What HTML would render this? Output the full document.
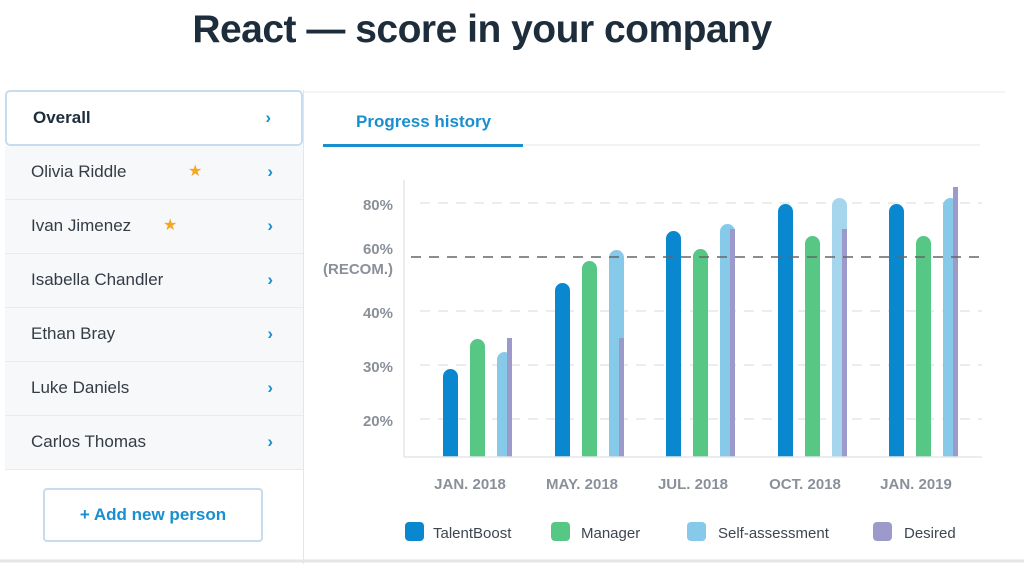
<!DOCTYPE html>
<html><head><meta charset="utf-8"><style>
body{margin:0;width:1024px;height:564px;background:#fff;font-family:"Liberation Sans",sans-serif;position:relative;overflow:hidden}
.t{position:absolute;left:0;width:964px;top:8px;text-align:center;font-size:39px;font-weight:bold;color:#1e2d3b;letter-spacing:-0.5px}
.panel{position:absolute;left:5px;top:90px;width:298px;height:474px;background:#fff;border-right:1px solid #e3e7ec}
.row{position:absolute;left:0;width:298px;height:54px;background:#f6f8fa;border-bottom:1px solid #e8ecf0;font-size:17px;color:#333c45;box-sizing:border-box;padding-left:26px;line-height:52px}
.row .a{position:absolute;right:30px;top:0;color:#1a8fd0;font-weight:bold;font-size:17px}
.row .s{position:absolute;color:#f5a623;font-size:16px}
.ov{background:#fff;border:2px solid #c7dcef;border-radius:5px;font-weight:bold;height:56px;line-height:52px;color:#1e2d3b}
.btn{position:absolute;left:38px;top:398px;width:216px;height:50px;border:2px solid #c7dcef;border-radius:4px;background:#fff;text-align:center;line-height:50px;color:#1a8fd0;font-weight:bold;font-size:17px}
</style></head><body>
<div class="t">React — score in your company</div>
<div class="panel">
<div class="row ov" style="top:0">Overall<span class="a">›</span></div>
<div class="row" style="top:56px">Olivia Riddle<span class="s" style="left:183px">★</span><span class="a">›</span></div>
<div class="row" style="top:110px">Ivan Jimenez<span class="s" style="left:158px">★</span><span class="a">›</span></div>
<div class="row" style="top:164px">Isabella Chandler<span class="a">›</span></div>
<div class="row" style="top:218px">Ethan Bray<span class="a">›</span></div>
<div class="row" style="top:272px">Luke Daniels<span class="a">›</span></div>
<div class="row" style="top:326px">Carlos Thomas<span class="a">›</span></div>
<div class="btn">+ Add new person</div>
</div>
<svg width="1024" height="564" style="position:absolute;left:0;top:0" font-family="Liberation Sans, sans-serif">
<line x1="303" y1="92" x2="1005" y2="92" stroke="#e6eaee"/>
<text x="356" y="127" font-size="17" font-weight="bold" fill="#1a8fd0">Progress history</text>
<line x1="323" y1="145" x2="980" y2="145" stroke="#e3e7ec"/>
<rect x="323" y="144" width="200" height="3" fill="#1a8fd0"/>
<g stroke="#e3e6ea" stroke-width="1.5" stroke-dasharray="10,8">
<line x1="420" y1="203" x2="982" y2="203"/><line x1="420" y1="311" x2="982" y2="311"/>
<line x1="420" y1="365" x2="982" y2="365"/><line x1="420" y1="419" x2="982" y2="419"/></g>
<line x1="404" y1="180" x2="404" y2="457" stroke="#e3e6ea" stroke-width="1.5"/>
<g font-size="15" font-weight="bold" fill="#8a9099" text-anchor="end">
<text x="393" y="210">80%</text><text x="393" y="254">60%</text><text x="393" y="274">(RECOM.)</text>
<text x="393" y="318">40%</text><text x="393" y="372">30%</text><text x="393" y="426">20%</text></g>
<g>
<rect x="443" y="369" width="15" height="95" rx="7.5" fill="#0a88cf"/>
<rect x="470" y="339" width="15" height="125" rx="7.5" fill="#57c785"/>
<rect x="497" y="352" width="15" height="112" rx="7.5" fill="#86c9e8"/>
<rect x="507" y="338" width="5" height="119" fill="#9b9acb"/>
<rect x="555" y="283" width="15" height="181" rx="7.5" fill="#0a88cf"/>
<rect x="582" y="261" width="15" height="203" rx="7.5" fill="#57c785"/>
<rect x="609" y="250" width="15" height="214" rx="7.5" fill="#86c9e8"/>
<rect x="619" y="338" width="5" height="119" fill="#9b9acb"/>
<rect x="666" y="231" width="15" height="233" rx="7.5" fill="#0a88cf"/>
<rect x="693" y="249" width="15" height="215" rx="7.5" fill="#57c785"/>
<rect x="720" y="224" width="15" height="240" rx="7.5" fill="#86c9e8"/>
<rect x="730" y="229" width="5" height="228" fill="#9b9acb"/>
<rect x="778" y="204" width="15" height="260" rx="7.5" fill="#0a88cf"/>
<rect x="805" y="236" width="15" height="228" rx="7.5" fill="#57c785"/>
<rect x="832" y="198" width="15" height="266" rx="7.5" fill="#a6d6ee"/>
<rect x="842" y="229" width="5" height="228" fill="#9b9acb"/>
<rect x="889" y="204" width="15" height="260" rx="7.5" fill="#0a88cf"/>
<rect x="916" y="236" width="15" height="228" rx="7.5" fill="#57c785"/>
<rect x="943" y="198" width="15" height="266" rx="7.5" fill="#86c9e8"/>
<rect x="953" y="187" width="5" height="270" fill="#9b9acb"/>
</g>
<rect x="380" y="457" width="610" height="10" fill="#fff"/>
<line x1="404" y1="457" x2="982" y2="457" stroke="#e3e6ea" stroke-width="1.5"/>
<line x1="411" y1="257" x2="982" y2="257" stroke="#666" stroke-width="1.5" stroke-dasharray="10,8"/>
<g font-size="15" font-weight="bold" fill="#8a9099" text-anchor="middle">
<text x="470" y="489">JAN. 2018</text><text x="582" y="489">MAY. 2018</text><text x="693" y="489">JUL. 2018</text>
<text x="805" y="489">OCT. 2018</text><text x="916" y="489">JAN. 2019</text></g>
<g font-size="15" fill="#3d4650">
<rect x="405" y="522" width="19" height="19" rx="4" fill="#0a88cf"/><text x="433" y="538">TalentBoost</text>
<rect x="551" y="522" width="19" height="19" rx="4" fill="#57c785"/><text x="581" y="538">Manager</text>
<rect x="687" y="522" width="19" height="19" rx="4" fill="#86c9e8"/><text x="718" y="538">Self-assessment</text>
<rect x="873" y="522" width="19" height="19" rx="4" fill="#9b9acb"/><text x="904" y="538">Desired</text>
</g>
<line x1="0" y1="561" x2="1024" y2="561" stroke="#e6e6e6" stroke-width="3"/>
</svg>
</body></html>
